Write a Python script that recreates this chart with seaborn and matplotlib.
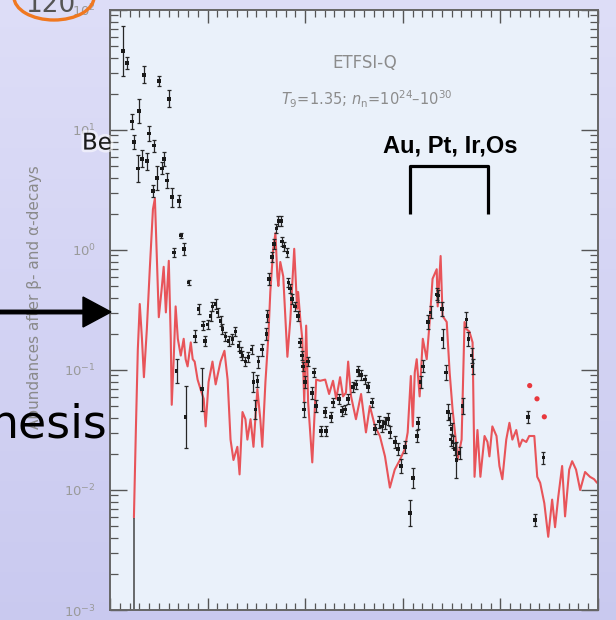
import numpy as np
import matplotlib
matplotlib.use("Agg")
import matplotlib.pyplot as plt
import seaborn as sns
from matplotlib.patches import Ellipse, FancyArrow
from matplotlib.ticker import FixedLocator, NullFormatter
import matplotlib.patheffects as pe

sns.set_theme(style="ticks")
plt.rcParams['font.family'] = ['DejaVu Sans']

# ---------------- data ----------------
# calculated abundance curve (red), mass number A and log10 abundance
red_A = [69.8, 70.6, 71.4, 72.2, 73.1, 73.9, 75.1, 76.3, 77.6, 78.4, 79.2, 80.0, 81.2, 82.0,
         82.9, 84.1, 84.9, 85.3, 86.1, 86.9, 87.8, 89.0, 90.2, 91.0, 91.8, 93.1, 93.9, 94.7,
         95.9, 97.1, 98.4, 99.2, 100.4, 102.0, 103.3, 105.3, 106.9, 108.2, 109.4, 110.6, 112.2,
         113.1, 114.3, 115.5, 116.3, 117.6, 118.8, 120.4, 121.6, 122.4, 123.7, 124.9, 125.7,
         126.9, 127.8, 128.6, 129.0, 129.8, 131.0, 132.7, 133.9, 135.5, 136.7, 137.1, 138.0,
         138.8, 139.6, 140.4, 141.2, 142.9, 144.5, 146.1, 148.2, 149.8, 151.4, 152.7, 154.3,
         155.5, 156.7, 157.6, 158.8, 160.8, 162.9, 164.9, 166.5, 168.6, 170.6, 172.7, 174.7,
         176.7, 178.8, 180.8, 182.0, 183.3, 184.1, 184.9, 185.7, 186.9, 188.2, 189.8, 191.0,
         192.2, 193.9, 194.3, 195.5, 196.3, 198.0, 199.2, 200.4, 202.0, 202.4, 204.1, 205.3,
         206.1, 207.3, 208.6, 209.4, 210.6, 211.8, 213.5, 214.7, 215.5, 216.7, 218.4, 219.6,
         220.8, 222.4, 223.7, 224.9, 226.5, 227.8, 229.0, 230.6, 231.8, 233.9, 235.1, 236.3,
         238.0, 239.6, 241.2, 242.4, 243.7, 245.3, 246.5, 248.2, 249.4, 251.0, 252.7, 254.7,
         256.7, 258.4, 259.6]
red_log10 = [-2.23, -1.50, -0.83, -0.45, -0.74, -1.06, -0.66, -0.16, 0.34, 0.43, -0.07, -0.56,
             -0.32, -0.14, -0.52, -0.09, -0.74, -1.29, -0.91, -0.47, -0.74, -0.88, -0.74, -0.91,
             -0.97, -0.77, -0.91, -0.93, -1.08, -1.16, -1.24, -1.47, -1.10, -0.93, -1.12, -0.93,
             -0.84, -1.08, -1.58, -1.75, -1.64, -1.87, -1.35, -1.41, -1.58, -1.41, -1.64, -1.16,
             -1.41, -1.64, -1.10, -0.72, -0.35, 0.01, 0.14, -0.22, -0.30, -0.10, -0.22, -0.89,
             -0.58, 0.01, -0.49, -0.35, -0.58, -0.74, -1.27, -0.63, -1.27, -1.77, -1.08, -1.09,
             -1.08, -1.20, -1.09, -1.24, -1.06, -1.22, -1.19, -0.93, -1.22, -1.41, -1.20, -1.52,
             -1.30, -1.47, -1.55, -1.72, -1.98, -1.83, -1.75, -1.66, -1.52, -1.05, -1.47, -1.02,
             -0.91, -1.22, -0.74, -0.91, -0.60, -0.24, -0.16, -0.47, -0.05, -0.55, -0.60, -1.02,
             -1.33, -1.64, -1.75, -1.58, -0.60, -0.66, -0.68, -0.77, -1.89, -1.50, -1.89, -1.55,
             -1.60, -1.72, -1.47, -1.55, -1.80, -1.91, -1.58, -1.44, -1.58, -1.50, -1.64, -1.58,
             -1.60, -1.55, -1.55, -1.89, -1.94, -2.11, -2.39, -2.08, -2.31, -2.06, -1.80, -2.22,
             -1.83, -1.76, -1.83, -2.00, -1.85, -1.89, -1.91, -1.94]

# observed solar r-abundances (black points with error bars)
obs_A = [65.3, 66.9, 69.0, 69.8, 71.4, 71.8, 73.1, 73.9, 75.1, 75.9, 77.6, 78.0, 79.2, 80.0,
         81.2, 82.0, 83.3, 84.1, 85.3, 86.1, 87.3, 88.2, 89.0, 90.2, 91.0, 92.2, 94.7, 96.3,
         97.6, 98.0, 98.8, 100.0, 101.2, 102.0, 103.3, 104.1, 105.3, 106.1, 107.3, 108.6,
         110.2, 111.4, 112.7, 113.5, 114.3, 115.5, 116.7, 118.0, 118.8, 119.6, 120.4, 120.8,
         122.4, 124.1, 124.5, 125.3, 126.5, 127.3, 128.2, 129.0, 130.2, 130.6, 131.4, 132.7,
         133.1, 133.9, 134.7, 135.9, 137.1, 138.0, 138.8, 139.2, 139.6, 140.0, 141.2, 142.9,
         143.7, 144.5, 146.5, 148.2, 148.6, 150.6, 151.4, 153.9, 155.1, 156.3, 157.6, 159.6,
         160.8, 161.6, 162.9, 164.5, 165.7, 167.3, 168.6, 170.2, 171.4, 172.7, 173.9, 174.7,
         176.7, 178.0, 179.2, 180.8, 182.9, 184.1, 185.7, 186.1, 187.3, 188.2, 190.2, 191.4,
         193.9, 194.3, 196.0, 196.3, 197.6, 198.4, 199.2, 199.6, 200.0, 200.4, 201.2, 202.0,
         203.3, 204.5, 206.1, 206.9, 208.2, 208.6, 231.4, 234.3, 237.6]
obs_log10 = [1.66, 1.56, 1.07, 0.90, 0.68, 1.16, 0.76, 1.46, 0.74, 0.97, 0.49, 0.87, 0.60, 1.41,
             0.68, 0.76, 0.58, 1.26, 0.44, -0.02, -1.01, 0.41, 0.12, 0.01, -1.39, -0.27, -0.72,
             -0.49, -1.16, -0.63, -0.76, -0.62, -0.55, -0.47, -0.45, -0.52, -0.59, -0.66, -0.72,
             -0.76, -0.74, -0.68, -0.80, -0.85, -0.88, -0.93, -0.89, -0.83, -1.10, -1.33, -1.09,
             -0.93, -0.83, -0.70, -0.55, -0.24, -0.06, 0.05, 0.18, 0.24, 0.24, 0.07, 0.03, -0.02,
             -0.27, -0.32, -0.41, -0.47, -0.55, -0.77, -0.88, -0.97, -1.33, -1.10, -0.93, -1.19,
             -1.02, -1.30, -1.51, -1.35, -1.51, -1.39, -1.27, -1.24, -1.34, -1.33, -1.24, -1.14,
             -1.12, -1.01, -1.04, -1.08, -1.14, -1.27, -1.49, -1.43, -1.47, -1.44, -1.41, -1.52,
             -1.60, -1.66, -1.80, -1.64, -2.19, -1.90, -1.55, -1.44, -1.10, -0.97, -0.60, -0.52,
             -0.37, -0.38, -0.49, -0.74, -1.02, -1.35, -1.41, -1.58, -1.49, -1.60, -1.66, -1.75,
             -1.69, -1.30, -0.58, -0.74, -0.88, -0.97, -1.39, -2.25, -1.73]
obs_err_dex = [0.21, 0.05, 0.06, 0.06, 0.11, 0.10, 0.07, 0.07, 0.07, 0.06, 0.05, 0.05, 0.10, 0.04,
               0.05, 0.06, 0.06, 0.07, 0.08, 0.04, 0.10, 0.05, 0.02, 0.05, 0.26, 0.02, 0.05, 0.04,
               0.18, 0.04, 0.04, 0.04, 0.04, 0.04, 0.04, 0.04, 0.04, 0.04, 0.04, 0.04, 0.04, 0.04,
               0.04, 0.04, 0.04, 0.04, 0.04, 0.04, 0.08, 0.08, 0.05, 0.05, 0.05, 0.05, 0.05, 0.05,
               0.04, 0.04, 0.04, 0.04, 0.04, 0.04, 0.04, 0.04, 0.04, 0.04, 0.04, 0.04, 0.04, 0.04,
               0.04, 0.04, 0.06, 0.05, 0.04, 0.05, 0.04, 0.05, 0.04, 0.04, 0.04, 0.04, 0.04, 0.04,
               0.04, 0.04, 0.04, 0.04, 0.04, 0.04, 0.04, 0.04, 0.04, 0.04, 0.04, 0.05, 0.05, 0.05,
               0.05, 0.05, 0.05, 0.05, 0.06, 0.05, 0.11, 0.08, 0.05, 0.05, 0.05, 0.05, 0.06, 0.05,
               0.05, 0.05, 0.06, 0.08, 0.06, 0.07, 0.05, 0.05, 0.05, 0.05, 0.05, 0.15, 0.05, 0.07,
               0.06, 0.06, 0.06, 0.06, 0.05, 0.05, 0.05]

# open lower limit at the start of the curve
tail_A = 69.8
tail_range = [1e-3, 10 ** -2.23]

# Th / U calculated abundances (red dots)
actinide_A = [232, 235, 238]
actinide_log10 = [-1.13, -1.24, -1.39]

y_ticks = [1e-3, 1e-2, 1e-1, 1e0, 1e1, 1e2]
y_ticklabels = [r'$10^{-3}$', r'$10^{-2}$', r'$10^{-1}$', r'$10^{0}$', r'$10^{1}$', r'$10^{2}$']
x_major = list(range(60, 261, 40))
x_minor = list(range(60, 261, 4))

bracket_A = [183, 183, 215, 215]
bracket_Y = [2.0, 5.0, 5.0, 2.0]

# ---------------- figure ----------------
W, H = 616, 620
fig = plt.figure(figsize=(W / 100, H / 100), dpi=100)


def px(x, y):
    return x / W, 1 - y / H


# slide background gradient
bg = fig.add_axes([0, 0, 1, 1], zorder=-5)
t = np.linspace(0, 1, 256)[:, None, None]
top_c = np.array([0.87, 0.87, 0.97])
bot_c = np.array([0.79, 0.79, 0.94])
bg.imshow(top_c + (bot_c - top_c) * t, aspect='auto', extent=[0, 1, 0, 1])
bg.axis('off')

ax = fig.add_axes([110 / W, 10 / H, 488 / W, 600 / H])
ax.set_facecolor('#eaf1fa')
ax.set_yscale('log')

red_Y = np.power(10.0, red_log10)
obs_Y = np.power(10.0, obs_log10)
obs_err = np.array(obs_err_dex)
act_Y = np.power(10.0, actinide_log10)

sns.lineplot(x=red_A, y=red_Y, sort=False, estimator=None, ax=ax,
             color='#e8383d', lw=1.5, alpha=0.85, zorder=2)
ax.vlines(tail_A, tail_range[0], tail_range[1], color='#444444', lw=1.1, zorder=2)
ax.errorbar(obs_A, obs_Y,
            yerr=[obs_Y - obs_Y * 10 ** (-obs_err), obs_Y * 10 ** obs_err - obs_Y],
            fmt='none', ecolor='#262626', elinewidth=0.9, capsize=1.5, capthick=0.9, zorder=3)
sns.scatterplot(x=obs_A, y=obs_Y, ax=ax, color='#1a1a1a', marker='s', s=7,
                edgecolor='none', zorder=4)
sns.scatterplot(x=actinide_A, y=act_Y, ax=ax, color='#e8383d', s=14,
                edgecolor='none', zorder=4)

ax.plot(bracket_A, bracket_Y, color='black', lw=2.3, solid_capstyle='butt', zorder=5)

ax.set_xlim(60, 260)
ax.set_ylim(1e-3, 1e2)
ax.xaxis.set_major_locator(FixedLocator(x_major))
ax.xaxis.set_minor_locator(FixedLocator(x_minor))
ax.xaxis.set_major_formatter(NullFormatter())
ax.set_yticks(y_ticks)
ax.set_yticklabels(y_ticklabels)
ax.yaxis.set_minor_formatter(NullFormatter())
ax.set_xlabel('')
ax.set_ylabel('')

ax.tick_params(axis='x', which='major', direction='in', length=9, width=1.0,
               colors='#555555', top=True, bottom=True)
ax.tick_params(axis='x', which='minor', direction='in', length=5, width=0.9,
               colors='#555555', top=True, bottom=True)
ax.tick_params(axis='y', which='major', direction='in', length=12, width=1.0,
               color='#555555', left=True, right=True, pad=10,
               labelcolor='#9a9a9a', labelsize=9.5)
ax.tick_params(axis='y', which='minor', direction='in', length=6, width=0.9,
               color='#555555', left=True, right=True)
for s in ax.spines.values():
    s.set_color('#666666')
    s.set_linewidth(1.4)

# ---------------- annotations ----------------
fig.text(*px(35, 297), 'Abundances after β- and α-decays', rotation=90,
         ha='center', va='center', color='#8a8a8a', fontsize=11)
fig.text(*px(365, 63), 'ETFSI-Q', ha='center', va='center', color='#8c8c8c', fontsize=12)
fig.text(*px(367, 99), r'$T_9$=1.35; $n_{\rm n}$=10$^{24}$–10$^{30}$',
         ha='center', va='center', color='#8c8c8c', fontsize=10.5)
fig.text(*px(450, 146), 'Au, Pt, Ir,Os', ha='center', va='center', color='black',
         fontsize=17, fontweight='bold', family=['Liberation Sans', 'DejaVu Sans'])

halo = [pe.withStroke(linewidth=4, foreground='white', alpha=0.55)]
fig.text(*px(82, 143), 'Be', ha='left', va='center', color='#1a1a1a', fontsize=16.5,
         path_effects=halo, zorder=10)
fig.text(*px(108, 438), 'nesis', ha='right', va='baseline', color='black', fontsize=33,
         zorder=10)
fig.text(*px(50, 12), '120', ha='center', va='baseline', color='#555555', fontsize=19,
         zorder=10)

arrow = FancyArrow(0.0, (H - 312) / 100, 1.11, 0.0, width=0.035, head_width=0.30,
                   head_length=0.28, length_includes_head=True, color='black',
                   transform=fig.dpi_scale_trans, zorder=10)
fig.add_artist(arrow)
ell = Ellipse((0.54, (H + 3) / 100), 0.80, 0.46, fill=False, edgecolor='#f07820',
              lw=2.4, transform=fig.dpi_scale_trans, zorder=11)
fig.add_artist(ell)

fig.savefig('out.png', dpi=100)
